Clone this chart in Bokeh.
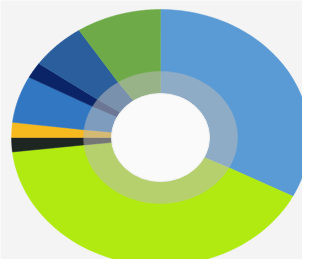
import numpy as np
from bokeh.plotting import figure
from bokeh.models import Range1d, ColumnDataSource
from bokeh.embed import file_html
from bokeh.resources import INLINE

# data (percent shares, clockwise from 12 o'clock)
categories = ["A", "B", "C", "D", "E", "F", "G", "H"]
values = [32.6, 40.6, 1.8, 1.9, 5.9, 2.0, 6.0, 9.2]
colors = ["#5B9BD5", "#B0EA10", "#1E2622", "#F7BA1E", "#3277C2", "#0B2468", "#2A5E9C", "#6EAB48"]

def blend(hexc, g=(186, 186, 186), a=0.45):
    h = hexc.lstrip("#")
    r, gg, b = int(h[0:2], 16), int(h[2:4], 16), int(h[4:6], 16)
    c = [round(a * r + (1 - a) * g[0]), round(a * gg + (1 - a) * g[1]), round(a * b + (1 - a) * g[2])]
    return "#%02x%02x%02x" % tuple(c)

ring_colors = [blend(c) for c in colors]

RX_OUT, RY_OUT = 149, 128
RX_MID, RY_MID = 77, 66
RX_IN, RY_IN = 49, 44

vals = np.array(values, dtype=float)
frac = vals / vals.sum()
ends = np.pi / 2 - 2 * np.pi * np.cumsum(frac)
starts = np.concatenate([[np.pi / 2], ends[:-1]])

def annulus(a0, a1, rxo, ryo, rxi, ryi):
    t = np.linspace(a0, a1, 60)
    xs = list(rxo * np.cos(t)) + list(rxi * np.cos(t[::-1]))
    ys = list(ryo * np.sin(t)) + list(ryi * np.sin(t[::-1]))
    return xs, ys

ox, oy, ix, iy = [], [], [], []
for a0, a1 in zip(starts, ends):
    xs, ys = annulus(a0, a1, RX_OUT, RY_OUT, RX_MID - 2, RY_MID - 2)
    ox.append(xs); oy.append(ys)
    xs, ys = annulus(a0, a1, RX_MID, RY_MID, RX_IN - 2, RY_IN - 2)
    ix.append(xs); iy.append(ys)

p = figure(width=302, height=259, output_backend="svg", toolbar_location=None,
           x_range=Range1d(-160, 142), y_range=Range1d(-122, 137),
           min_border=0)
p.axis.visible = False
p.grid.visible = False
p.outline_line_color = None
p.background_fill_color = "#F4F4F4"
p.border_fill_color = "#F4F4F4"

p.patches(xs="xs", ys="ys", source=ColumnDataSource(dict(xs=ox, ys=oy, c=colors, cat=categories)),
          fill_color="c", line_color="c", line_width=0.5)
p.patches(xs="xs", ys="ys", source=ColumnDataSource(dict(xs=ix, ys=iy, c=ring_colors, cat=categories)),
          fill_color="c", line_color="c", line_width=0.5)
p.ellipse(x=[0], y=[0], width=[2 * RX_IN], height=[2 * RY_IN], fill_color="#FAFAFA", line_color="#F0F0F0")

open("out.html", "w").write(file_html(p, INLINE))
